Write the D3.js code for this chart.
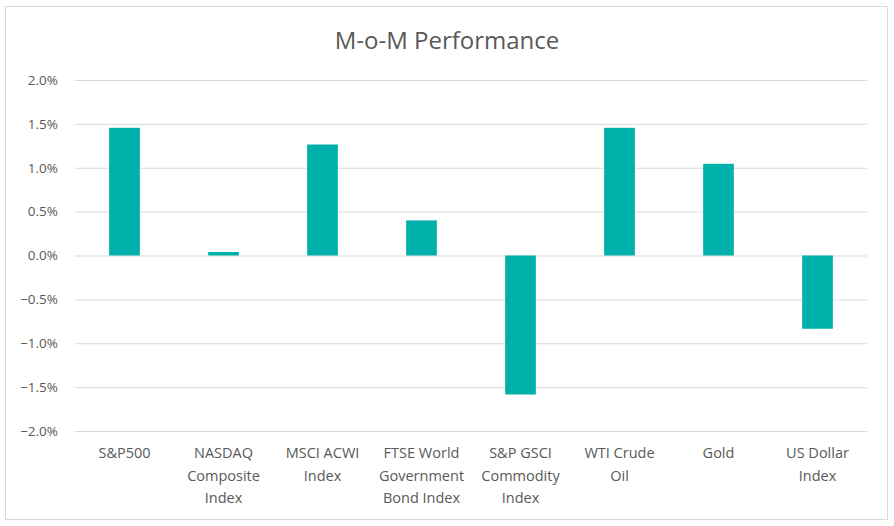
<!DOCTYPE html>
<html>
<head>
<meta charset="utf-8">
<script src="https://cdn.jsdelivr.net/npm/d3@7"></script>
<style>
  body { margin: 0; background: #fff; }
  text { font-family: "Open Sans", "Liberation Sans", sans-serif; }
</style>
</head>
<body>
<div id="container"></div>
<script>
/* DATA */
const categories = [
  ["S&P500"],
  ["NASDAQ", "Composite", "Index"],
  ["MSCI ACWI", "Index"],
  ["FTSE World", "Government", "Bond Index"],
  ["S&P GSCI", "Commodity", "Index"],
  ["WTI Crude", "Oil"],
  ["Gold"],
  ["US Dollar", "Index"]
];
const values = [1.455, 0.04, 1.265, 0.40, -1.584, 1.455, 1.045, -0.835]; // percent
const yTicks = [-2, -1.5, -1, -0.5, 0, 0.5, 1, 1.5, 2];

/* CONSTANTS */
const width = 894, height = 526;
const margin = {top: 80, bottom: 95, left: 75, right: 27};
const barColor = "#00B0AA";
const textColor = "#595959";

const svg = d3.select("#container")
  .append("svg")
  .attr("width", width)
  .attr("height", height);

// chart frame
svg.append("rect")
  .attr("x", 5.5).attr("y", 6.5)
  .attr("width", 882).attr("height", 513)
  .attr("fill", "#fff")
  .attr("stroke", "#d9d9d9");

// title
svg.append("text")
  .attr("x", 447).attr("y", 49)
  .attr("text-anchor", "middle")
  .attr("fill", textColor)
  .style("font-size", "24px")
  .text("M-o-M Performance");

/* SCALES */
const labels = categories.map(c => c.join(" "));
const xScale = d3.scaleBand()
  .domain(labels)
  .range([margin.left, width - margin.right])
  .paddingInner(0.69)
  .paddingOuter(0.345);

const yScale = d3.scaleLinear()
  .domain([-2, 2])
  .range([431, 80]);

// gridlines + y labels
const yAxis = d3.axisLeft(yScale)
  .tickValues(yTicks)
  .tickSize(-(width - margin.right - margin.left))
  .tickFormat(d => d3.format(".1f")(d) + "%");

const yg = svg.append("g")
  .attr("transform", `translate(${margin.left},0)`)
  .call(yAxis);
yg.select(".domain").remove();
yg.selectAll(".tick line").attr("stroke", "#d9d9d9").attr("stroke-width", 1);
yg.selectAll(".tick text")
  .attr("x", -17)
  .attr("fill", textColor)
  .style("font-size", "13.5px");

/* BARS */
svg.selectAll("rect.bar")
  .data(values)
  .join("rect")
  .attr("class", "bar")
  .attr("x", (d, i) => xScale(labels[i]))
  .attr("width", xScale.bandwidth())
  .attr("y", d => yScale(Math.max(0, d)))
  .attr("height", d => Math.abs(yScale(d) - yScale(0)))
  .attr("fill", barColor);

// category labels (multi-line)
const cat = svg.selectAll("text.cat")
  .data(categories)
  .join("text")
  .attr("class", "cat")
  .attr("text-anchor", "middle")
  .attr("fill", textColor)
  .style("font-size", "14.5px")
  .attr("transform", (d, i) => `translate(${xScale(labels[i]) + xScale.bandwidth() / 2},458)`);

cat.selectAll("tspan")
  .data(d => d)
  .join("tspan")
  .attr("x", 0)
  .attr("y", (d, i) => i * 22.5)
  .text(d => d);
</script>
</body>
</html>
